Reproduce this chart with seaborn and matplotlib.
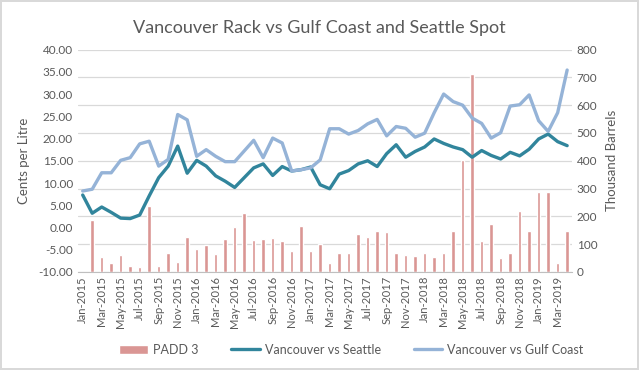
import numpy as np
import pandas as pd
import matplotlib
matplotlib.use("Agg")
import matplotlib.pyplot as plt
import seaborn as sns

# monthly data, Jan-2015 .. Apr-2019
months = ["Jan-2015", "Feb-2015", "Mar-2015", "Apr-2015", "May-2015", "Jun-2015",
          "Jul-2015", "Aug-2015", "Sep-2015", "Oct-2015", "Nov-2015", "Dec-2015",
          "Jan-2016", "Feb-2016", "Mar-2016", "Apr-2016", "May-2016", "Jun-2016",
          "Jul-2016", "Aug-2016", "Sep-2016", "Oct-2016", "Nov-2016", "Dec-2016",
          "Jan-2017", "Feb-2017", "Mar-2017", "Apr-2017", "May-2017", "Jun-2017",
          "Jul-2017", "Aug-2017", "Sep-2017", "Oct-2017", "Nov-2017", "Dec-2017",
          "Jan-2018", "Feb-2018", "Mar-2018", "Apr-2018", "May-2018", "Jun-2018",
          "Jul-2018", "Aug-2018", "Sep-2018", "Oct-2018", "Nov-2018", "Dec-2018",
          "Jan-2019", "Feb-2019", "Mar-2019", "Apr-2019"]

# thousand barrels (right axis)
padd3 = [0, 186, 53, 31, 61, 20, 18, 239, 23, 69,
         37, 127, 84, 96, 63, 117, 162, 211, 115, 119,
         122, 110, 76, 167, 77, 99, 33, 67, 67, 138,
         124, 149, 143, 69, 60, 57, 67, 54, 67, 146,
         401, 713, 113, 173, 51, 67, 219, 147, 289, 289,
         33, 147]

# cents per litre (left axis)
vs_seattle = [7.3, 3.2, 4.6, 3.4, 2.1, 2.0, 2.8, 7.1, 11.2, 13.8,
              18.3, 12.2, 15.1, 13.8, 11.6, 10.4, 9.0, 11.2, 13.4, 14.3,
              11.7, 13.7, 12.7, 13.0, 13.6, 9.6, 8.7, 12.0, 12.8, 14.3,
              15.0, 13.7, 16.6, 18.6, 15.8, 17.1, 18.1, 19.9, 18.9, 18.1,
              17.5, 15.8, 17.3, 16.2, 15.4, 16.9, 16.1, 17.6, 19.9, 21.0,
              19.3, 18.4]

vs_gulf = [8.2, 8.6, 12.3, 12.3, 15.1, 15.7, 18.8, 19.4, 13.8, 15.3,
           25.4, 24.2, 16.0, 17.5, 16.0, 14.8, 14.8, 17.2, 19.6, 15.7,
           20.1, 19.0, 12.7, 13.0, 13.4, 15.2, 22.2, 22.2, 21.0, 21.8,
           23.3, 24.3, 20.6, 22.7, 22.3, 20.3, 21.2, 25.8, 30.0, 28.3,
           27.5, 24.6, 23.4, 20.1, 21.3, 27.3, 27.6, 29.8, 24.0, 21.6,
           25.8, 35.4]

df = pd.DataFrame({"month": months, "pos": np.arange(len(months)),
                   "padd3": padd3, "seattle": vs_seattle, "gulf": vs_gulf})

sns.set_style("white")
plt.rcParams["font.family"] = ["Lato", "DejaVu Sans"]

grey = "#595959"
bar_col = "#DA9694"
teal = "#31859C"
lblue = "#95B3D7"

fig = plt.figure(figsize=(6.39, 3.70), dpi=100)
fig.patch.set_edgecolor("#D9D9D9")
fig.patch.set_linewidth(1.5)
ax = fig.add_axes([0.122, 0.265, 0.773, 0.601])
ax2 = ax.twinx()

# bars on the right axis, drawn underneath the lines
sns.barplot(data=df, x="month", y="padd3", ax=ax2, color=bar_col,
            saturation=1, width=0.36, label="PADD 3")
sns.lineplot(data=df, x="pos", y="seattle", ax=ax, color=teal, lw=2.4,
             label="Vancouver vs Seattle")
sns.lineplot(data=df, x="pos", y="gulf", ax=ax, color=lblue, lw=2.4,
             label="Vancouver vs Gulf Coast")

ax.set_zorder(ax2.get_zorder() + 1)
ax.patch.set_visible(False)

ax.set_xlim(-0.5, len(months) - 0.5)
ax2.set_xlim(-0.5, len(months) - 0.5)
ax.set_ylim(-10, 40)
ax2.set_ylim(0, 800)
ax.set_yticks(np.arange(-10, 41, 5))
ax.set_yticklabels([f"{v:.2f}" for v in np.arange(-10, 41, 5)])
ax2.set_yticks(np.arange(0, 801, 100))

ax.set_xticks(df["pos"][::2])
ax.set_xticklabels(df["month"][::2], rotation=90)

ax2.grid(axis="y", color="#D9D9D9", lw=0.9)
ax2.set_axisbelow(True)
ax.grid(False)

for a in (ax, ax2):
    for s in a.spines.values():
        s.set_visible(False)
    a.tick_params(length=0, colors=grey, labelsize=8.5)
ax.spines["bottom"].set_visible(True)
ax.spines["bottom"].set_color("#BFBFBF")
ax.tick_params(axis="x", labelsize=8, pad=3)

ax.set_xlabel("")
ax2.set_xlabel("")
ax.set_ylabel("Cents per Litre", color=grey, fontsize=9.5, labelpad=6)
ax2.set_ylabel("Thousand Barrels", color=grey, fontsize=9.5, labelpad=6)

h1, l1 = ax2.get_legend_handles_labels()
h2, l2 = ax.get_legend_handles_labels()
ax.get_legend().remove()
if ax2.get_legend() is not None:
    ax2.get_legend().remove()
fig.legend(h1 + h2, l1 + l2, loc="center", bbox_to_anchor=(0.55, 0.055),
           ncol=3, frameon=False, fontsize=9, labelcolor=grey,
           handlelength=2.3, handletextpad=0.4, columnspacing=2.6)

fig.suptitle("Vancouver Rack vs Gulf Coast and Seattle Spot", y=0.945,
             fontsize=13, color=grey)

fig.savefig("out.png", dpi=100)
